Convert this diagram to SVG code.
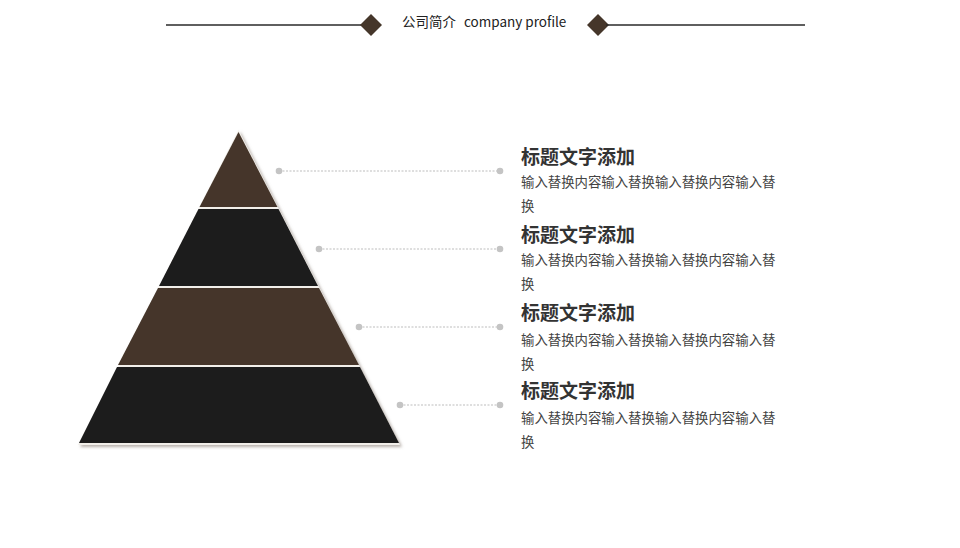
<svg xmlns="http://www.w3.org/2000/svg" width="960" height="548" viewBox="0 0 960 548">
<style>
.hline{stroke:#2a2a2a;stroke-width:1.3}
.dia{fill:#45362a}
.brown{fill:#45362a}
.black{fill:#1a1a1a}
.conn{stroke:#bdbdbd;stroke-width:1;stroke-dasharray:2 1.5;fill:none}
.dot{fill:#c4c4c4}
.title{font-family:"Noto Sans CJK SC","Liberation Sans",sans-serif;font-size:19px;font-weight:bold;fill:#333}
.desc{font-family:"Noto Sans CJK SC","Liberation Sans",sans-serif;font-size:13.4px;fill:#444}
.head{font-family:"Noto Sans CJK SC","Liberation Sans",sans-serif;font-size:13.5px;fill:#222}
</style>
<defs>
<filter id="sh" x="-10%" y="-10%" width="130%" height="130%">
<feDropShadow dx="2" dy="2" stdDeviation="1.5" flood-color="#8a7f74" flood-opacity="0.6"/>
</filter>
</defs>
<rect width="960" height="548" fill="#fff"/>
<g id="header">
<line class="hline" x1="166" y1="25" x2="362" y2="25"/>
<polygon class="dia" points="371,14 382,25 371,36 360,25"/>
<text class="head" x="402" y="27">公司简介</text>
<text class="head" x="464" y="27">company profile</text>
<polygon class="dia" points="598,14 609,25 598,36 587,25"/>
<line class="hline" x1="606" y1="25" x2="805" y2="25"/>
</g>
<g id="pyramid" filter="url(#sh)">
<polygon fill="#f2efea" points="238.5,130 400,445 78,445"/>
<g id="layer1"><polygon class="brown" points="238.5,132 277.5,207 199.5,207"/></g>
<g id="layer2"><polygon class="black" points="198.5,209 278.5,209 318,286 159,286"/></g>
<g id="layer3"><polygon class="brown" points="158,288 319,288 359,365 118,365"/></g>
<g id="layer4"><polygon class="black" points="117,367 360,367 399,443 79,443"/></g>
</g>
<g id="connectors">
<line class="conn" x1="279" y1="171" x2="500" y2="171"/>
<line class="conn" x1="319" y1="249" x2="500" y2="249"/>
<line class="conn" x1="359" y1="327" x2="500" y2="327"/>
<line class="conn" x1="400" y1="405" x2="500" y2="405"/>
<circle class="dot" cx="279" cy="171" r="3.3"/><circle class="dot" cx="500" cy="171" r="3.3"/>
<circle class="dot" cx="319" cy="249" r="3.3"/><circle class="dot" cx="500" cy="249" r="3.3"/>
<circle class="dot" cx="359" cy="327" r="3.3"/><circle class="dot" cx="500" cy="327" r="3.3"/>
<circle class="dot" cx="400" cy="405" r="3.3"/><circle class="dot" cx="500" cy="405" r="3.3"/>
</g>
<g id="item1">
<text class="title" x="521" y="164">标题文字添加</text>
<text class="desc" x="521" y="187">输入替换内容输入替换输入替换内容输入替</text>
<text class="desc" x="521" y="211">换</text>
</g>
<g id="item2">
<text class="title" x="521" y="242">标题文字添加</text>
<text class="desc" x="521" y="265">输入替换内容输入替换输入替换内容输入替</text>
<text class="desc" x="521" y="289">换</text>
</g>
<g id="item3">
<text class="title" x="521" y="320">标题文字添加</text>
<text class="desc" x="521" y="345">输入替换内容输入替换输入替换内容输入替</text>
<text class="desc" x="521" y="369">换</text>
</g>
<g id="item4">
<text class="title" x="521" y="398">标题文字添加</text>
<text class="desc" x="521" y="423">输入替换内容输入替换输入替换内容输入替</text>
<text class="desc" x="521" y="447">换</text>
</g>
</svg>
